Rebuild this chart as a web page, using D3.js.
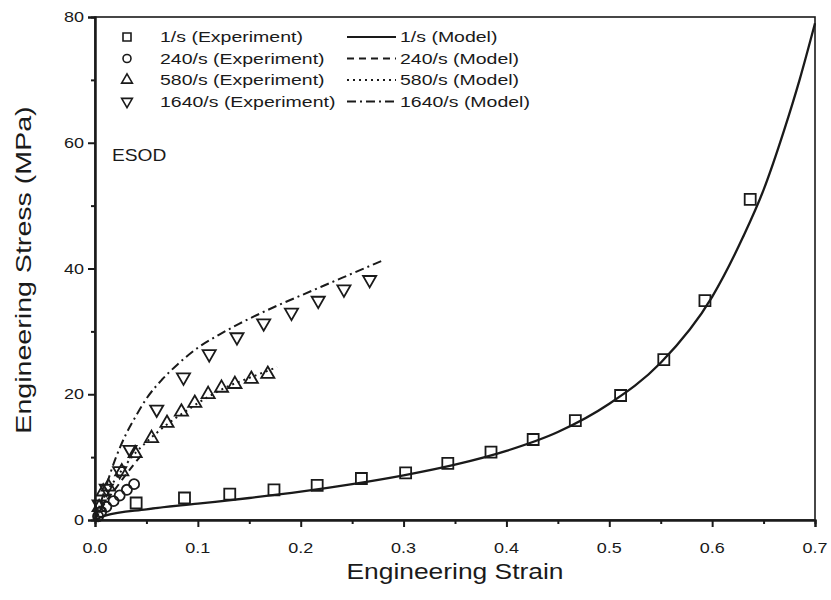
<!DOCTYPE html>
<html>
<head>
<meta charset="utf-8">
<script src="https://cdn.jsdelivr.net/npm/d3@7"></script>
<style>
  body { margin: 0; background: #fff; }
  text { font-family: "Liberation Sans", Arial, sans-serif; fill: #1a1a1a; }
</style>
</head>
<body>
<div id="chart"></div>
<script>
// data (strain, stress MPa)
var exp1 = [[0.04,2.7],[0.087,3.5],[0.131,4.1],[0.174,4.8],[0.216,5.5],[0.259,6.6],[0.302,7.5],
  [0.343,9.0],[0.385,10.8],[0.426,12.8],[0.467,15.8],[0.511,19.8],[0.553,25.5],[0.593,34.9],[0.637,51.0]];
var exp240 = [[0.003,0.6],[0.006,1.3],[0.011,2.1],[0.018,3.0],[0.024,3.9],[0.031,4.8],[0.038,5.7]];
var exp580 = [[0.004,2.0],[0.008,4.5],[0.013,5.3],[0.026,7.7],[0.039,10.6],[0.055,13.0],[0.070,15.4],
  [0.084,17.2],[0.097,18.6],[0.110,20.0],[0.123,21.0],[0.136,21.6],[0.152,22.4],[0.168,23.2]];
var exp1640 = [[0.004,2.5],[0.011,5.0],[0.024,7.8],[0.034,11.2],[0.060,17.6],[0.086,22.7],[0.111,26.4],
  [0.138,29.1],[0.164,31.3],[0.191,33.0],[0.217,34.9],[0.242,36.7],[0.267,38.2]];

var model1 = [[0,0],[0.01,0.7],[0.05,1.7],[0.1,2.6],[0.15,3.5],[0.2,4.5],[0.25,5.7],[0.3,7.1],[0.35,8.8],
  [0.4,11.0],[0.45,14.0],[0.5,18.5],[0.55,25],[0.6,35.5],[0.63,45],[0.65,52.5],[0.67,62],[0.685,70],[0.7,79]];
var model240 = [[0,0],[0.01,2.8],[0.02,5.0],[0.03,7.2],[0.04,9.3],[0.045,10.3]];
var model580 = [[0,0],[0.01,4.0],[0.02,6.5],[0.03,8.8],[0.04,10.8],[0.05,12.4],[0.07,15.2],[0.09,17.5],
  [0.11,19.6],[0.13,21.3],[0.15,22.6],[0.177,24.3]];
var model1640 = [[0,0],[0.005,2.5],[0.01,5],[0.02,9.8],[0.03,13.6],[0.04,16.6],[0.05,19.3],[0.065,22.3],
  [0.08,24.7],[0.1,27.4],[0.12,29.4],[0.14,31.2],[0.16,32.8],[0.18,34.3],[0.2,35.7],[0.22,37.1],
  [0.24,38.5],[0.26,39.9],[0.28,41.3]];

var expLabels = ["1/s (Experiment)", "240/s (Experiment)", "580/s (Experiment)", "1640/s (Experiment)"];
var modelLabels = ["1/s (Model)", "240/s (Model)", "580/s (Model)", "1640/s (Model)"];
var xTicks = [0, 0.1, 0.2, 0.3, 0.4, 0.5, 0.6, 0.7];
var yTicks = [0, 20, 40, 60, 80];

var svgWidth = 831;
var svgHeight = 600;
var margin = { top: 17, right: 16, bottom: 80, left: 95 };
var width = svgWidth - margin.left - margin.right;
var height = svgHeight - margin.top - margin.bottom;
var ink = "#1a1a1a";

var svg = d3.select("#chart").append("svg")
  .attr("width", svgWidth)
  .attr("height", svgHeight);

var chartGroup = svg.append("g")
  .attr("transform", `translate(${margin.left}, ${margin.top})`);

var x = d3.scaleLinear().domain([0, 0.7]).range([0, width]);
var y = d3.scaleLinear().domain([0, 80]).range([height, 0]);

// stretched text, the scan's font runs wide
function label(g, tx, ty, str, size, sx, anchor, rot) {
  return g.append("text")
    .attr("transform", `translate(${tx},${ty}) rotate(${rot || 0}) scale(${sx},1)`)
    .attr("text-anchor", anchor || "start")
    .style("font-size", size + "px")
    .text(str);
}

// frame
chartGroup.append("rect")
  .attr("width", width).attr("height", height)
  .attr("fill", "none").attr("stroke", ink).attr("stroke-width", 1.6);

// axes: major + minor ticks
var xMinor = d3.range(0.05, 0.7, 0.1);
var yMinor = [10, 30, 50, 70];

var bottomAxis = d3.axisBottom(x).tickValues(xTicks).tickSize(7).tickFormat("");
var bottomMinor = d3.axisBottom(x).tickValues(xMinor).tickSize(4).tickFormat("");
var leftAxis = d3.axisLeft(y).tickValues(yTicks).tickSize(7).tickFormat("");
var leftMinor = d3.axisLeft(y).tickValues(yMinor).tickSize(4).tickFormat("");

[bottomAxis, bottomMinor].forEach(function(a) {
  chartGroup.append("g").attr("transform", `translate(0, ${height})`).call(a)
    .call(g => g.selectAll("line, path").attr("stroke", ink).attr("stroke-width", 2));
});
[leftAxis, leftMinor].forEach(function(a) {
  chartGroup.append("g").call(a)
    .call(g => g.selectAll("line, path").attr("stroke", ink).attr("stroke-width", 2));
});

xTicks.forEach(function(t) {
  label(chartGroup, x(t), height + 33, d3.format(".1f")(t), 15, 1.2, "middle");
});
yTicks.forEach(function(t) {
  label(chartGroup, -11, y(t) + 5, t, 15, 1.2, "end");
});

// axis titles
label(svg, 455, 579, "Engineering Strain", 22, 1.2, "middle");
label(svg, 31, 270, "Engineering Stress (MPa)", 22, 1.3, "middle", -90);

label(chartGroup, 17, 144, "ESOD", 16, 1.2, "start");

// model lines
var line = d3.line()
  .x(d => x(d[0]))
  .y(d => y(d[1]))
  .curve(d3.curveMonotoneX);

var dashes = [null, "7,5", "2,4", "9,4,2,4"];
var models = [model1, model240, model580, model1640];

models.forEach(function(m, i) {
  chartGroup.append("path")
    .datum(m)
    .attr("d", line)
    .attr("fill", "none")
    .attr("stroke", ink)
    .attr("stroke-width", i == 0 ? 2.3 : 2)
    .attr("stroke-dasharray", dashes[i]);
});

// experiment markers
var symbols = [
  d3.symbol().type(d3.symbolSquare).size(121),
  d3.symbol().type(d3.symbolCircle).size(80),
  d3.symbol().type(d3.symbolTriangle).size(75),
  d3.symbol().type(d3.symbolTriangle).size(75)
];
var rotations = [0, 0, 0, 180];
var exps = [exp1, exp240, exp580, exp1640];

exps.forEach(function(e, i) {
  chartGroup.selectAll(".m" + i)
    .data(e)
    .enter()
    .append("path")
    .attr("class", "m" + i)
    .attr("d", symbols[i])
    .attr("transform", d => `translate(${x(d[0])},${y(d[1])}) rotate(${rotations[i]})`)
    .attr("fill", "none")
    .attr("stroke", ink)
    .attr("stroke-width", 1.8);
});

// legend
var legend = svg.append("g");
expLabels.forEach(function(txt, i) {
  var ly = 37 + i * 21.5;
  legend.append("path")
    .attr("d", i < 2 ? d3.symbol().type(i == 0 ? d3.symbolSquare : d3.symbolCircle).size(i == 0 ? 64 : 50)()
                     : d3.symbol().type(d3.symbolTriangle).size(50)())
    .attr("transform", `translate(127,${ly}) rotate(${rotations[i]})`)
    .attr("fill", "none").attr("stroke", ink).attr("stroke-width", 1.6);
  label(legend, 160, ly + 5, txt, 15, 1.3, "start");

  legend.append("line")
    .attr("x1", 347).attr("x2", 396).attr("y1", ly).attr("y2", ly)
    .attr("stroke", ink).attr("stroke-width", 2)
    .attr("stroke-dasharray", dashes[i]);
  label(legend, 400, ly + 5, modelLabels[i], 15, 1.3, "start");
});
</script>
</body>
</html>
